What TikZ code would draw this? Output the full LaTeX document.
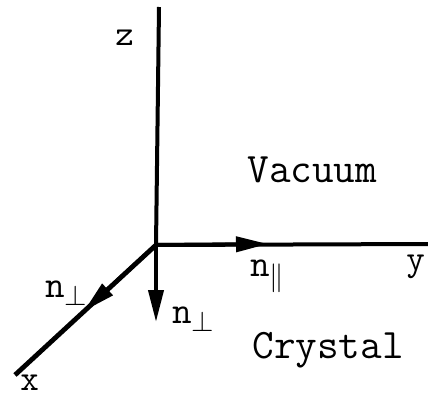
\documentclass[tikz,border=0pt]{standalone}
\usepackage{fontspec}
\usetikzlibrary{arrows.meta, positioning}

\begin{document}
\begin{tikzpicture}[
  x=0.5pt, y=-0.5pt,
  axis/.style={line width=2pt},
  vec/.style={line width=2pt, -{Triangle[length=16pt, width=7.5pt]}},
  region/.style={font=\ttfamily\fontsize{21}{21}\selectfont, inner sep=0pt, anchor=base west},
  axlbl/.style={font=\ttfamily\fontsize{18}{18}\selectfont, inner sep=0pt, anchor=base west},
  vlbl/.style={font=\ttfamily\fontsize{19}{19}\selectfont, inner sep=0pt, anchor=base west},
]
  \useasboundingbox (0,0) rectangle (428,396);

  % axes
  \coordinate (O)    at (156,245);
  \coordinate (ztop) at (159,7);
  \coordinate (yend) at (428,244);
  \coordinate (xend) at (15,375);
  \draw[axis] (O) -- (ztop);
  \draw[axis] (O) -- (yend);
  \draw[axis, line width=2.4pt] (O) -- (xend);

  % unit vectors
  \coordinate (ypar)  at (268,244);
  \coordinate (xperp) at (84,311);
  \coordinate (zperp) at (156,322);
  \draw[vec] (O) -- (ypar);
  \draw[vec] (O) -- (xperp);
  \draw[vec] (O) -- (zperp);

  % labels
  \node[axlbl] (zlbl) at (115,46)  {z};
  \node[axlbl] (ylbl) at (406,270) {y};
  \node[axlbl] (xlbl) at (20,390)  {x};
  \node[vlbl] (npar)  at (250,276) {n$_{\parallel}$};
  \node[vlbl] (nxl)   at (45,297)  {n$_{\perp}$};
  \node[vlbl] (nzl)   at (172,323) {n$_{\perp}$};
  \node[region] (vac) at (247,182) {Vacuum};
  \node[region] (cry) at (252,358) {Crystal};
\end{tikzpicture}
\end{document}
